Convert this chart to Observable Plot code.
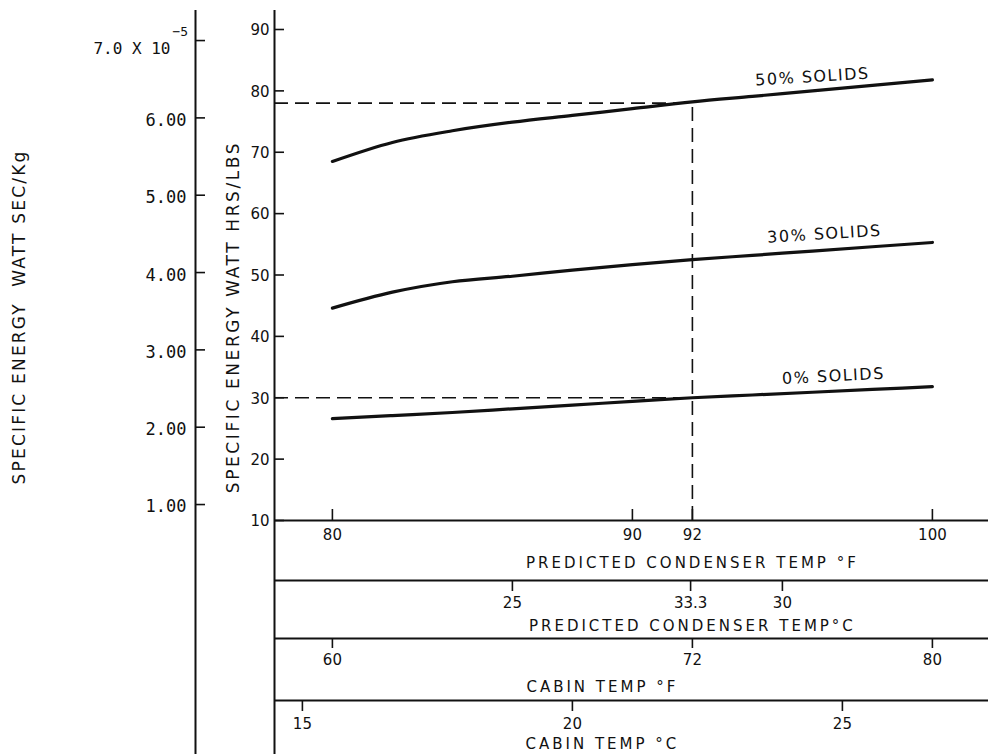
<!DOCTYPE html>
<html>
<head>
<meta charset="utf-8">
<script src="https://cdn.jsdelivr.net/npm/d3@7"></script>
<script src="https://cdn.jsdelivr.net/npm/@observablehq/plot@0.6"></script>
<style>
  body { margin: 0; background: #fff; }
  #chart svg { display: block; }
</style>
</head>
<body>
<div id="chart"></div>
<script>
// ---------- data ----------
const condenserTempF = [80, 82, 84, 86, 88, 90, 92, 94, 96, 98, 100];
const solids50 = [68.5, 71.6, 73.5, 74.9, 76.0, 77.1, 78.2, 79.1, 80.0, 80.9, 81.8];
const solids30 = [44.6, 47.2, 48.9, 49.8, 50.8, 51.7, 52.5, 53.2, 53.9, 54.6, 55.3];
const solids0  = [26.6, 27.1, 27.6, 28.2, 28.8, 29.4, 30.0, 30.45, 30.9, 31.35, 31.8];
const seriesNames = ["50% SOLIDS", "30% SOLIDS", "0% SOLIDS"];

// design point read-out (dashed lines)
const designTempF = 92;
const designReadouts = [78, 30];   // W·h/lb at 92 °F for 50 % and 0 % solids

// axis ticks
const energyWhLbTicks = [10, 20, 30, 40, 50, 60, 70, 80, 90];
const energyWsKgTicks = [1, 2, 3, 4, 5, 6];
const energyWsKgLabels = ["1.00", "2.00", "3.00", "4.00", "5.00", "6.00"];
const energyWsKgTop = 7;
const energyWsKgTopLabel = "7.0 X 10";
const energyWsKgExponent = "\u22125";
const whLbPerWsKgUnit = 1e5 * 0.45359237 / 3600;   // 1.00 x 10^5 W·s/kg expressed in W·h/lb

const condenserFTicks = [80, 90, 92, 100];
const condenserCTicks = [30, 33.3, 35];
const condenserCLabels = ["25", "33.3", "30"];
const cabinFTicks = [60, 72, 80];
const cabinCTicks = [15, 20, 25];
const cabinToCondenserF = 20;      // condenser runs 20 °F above cabin on this chart

const titles = {
  yInner: "SPECIFIC ENERGY WATT HRS/LBS",
  yOuter: "SPECIFIC ENERGY  WATT SEC/Kg",
  condF: "PREDICTED CONDENSER TEMP °F",
  condC: "PREDICTED CONDENSER TEMP°C",
  cabinF: "CABIN TEMP °F",
  cabinC: "CABIN TEMP °C"
};

// ---------- derived tables ----------
const cToF = c => c * 9 / 5 + 32;
const rows = [solids50, solids30, solids0].flatMap((vals, s) =>
  vals.map((v, i) => ({series: seriesNames[s], t: condenserTempF[i], v})));
const labelRows = [solids50, solids30, solids0].map((vals, s) =>
  ({series: seriesNames[s], t: condenserTempF[8], v: vals[8]}));
const leftAxis = energyWsKgTicks.map((v, i) => ({v: v * whLbPerWsKgUnit, label: energyWsKgLabels[i]}));
const condCRows = condenserCTicks.map((c, i) => ({t: cToF(c), label: condenserCLabels[i]}));
const cabinFRows = cabinFTicks.map(f => ({t: f + cabinToCondenserF, label: String(f)}));
const cabinCRows = cabinCTicks.map(c => ({t: cToF(c) + cabinToCondenserF, label: String(c)}));

// ---------- layout ----------
const W = 988, H = 754;
const mTop = 29, mBottom = 234, mLeft = 274;
const xDomain = [78.07, 101.87];
const outerAxisOffset = -79;
const ink = "#111";
const dash = "14,7";
const band = [0, 60, 118, 180];          // separator offsets below the plot bottom (px)
const bandLabel = [15, 83, 140, 204];
const bandTitle = [43, 106, 167, 224];
const titleFont = {fontFamily: "DejaVu Sans", fontSize: 15, ariaDescription: "band-title"};
const curveFont = {fontSize: 16, fill: ink, ariaDescription: "curve-label"};

const chart = Plot.plot({
  width: W, height: H,
  marginTop: mTop, marginBottom: mBottom, marginLeft: mLeft, marginRight: 0,
  x: {domain: xDomain, axis: null},
  y: {domain: [10, 90], axis: null},
  style: {fontFamily: "DejaVu Sans", fontSize: "15px", color: ink, background: "#fff", overflow: "visible"},
  marks: [
    // axis lines
    Plot.ruleX([xDomain[0]], {stroke: ink, strokeWidth: 2, insetTop: -19, insetBottom: -mBottom}),
    Plot.ruleX([xDomain[0]], {stroke: ink, strokeWidth: 2, dx: outerAxisOffset, insetTop: -19, insetBottom: -mBottom}),
    ...band.map(d => Plot.ruleY([10], {stroke: ink, strokeWidth: 2, dy: d})),

    // main y axis ticks + labels
    Plot.ruleY(energyWhLbTicks, {y: d => d, x1: xDomain[0], x2: xDomain[0], insetRight: -10, stroke: ink, strokeWidth: 1.6}),
    Plot.text(energyWhLbTicks, {y: d => d, text: d => String(d), frameAnchor: "left", textAnchor: "end", dx: -5, dy: 1, fill: ink}),

    // outer y axis (W·s/kg)
    Plot.ruleY([...leftAxis.map(d => d.v), energyWsKgTop * whLbPerWsKgUnit], {y: d => d, x1: xDomain[0], x2: xDomain[0], dx: outerAxisOffset, insetRight: -10, stroke: ink, strokeWidth: 1.6}),
    Plot.text(leftAxis, {y: "v", text: "label", frameAnchor: "left", textAnchor: "end", dx: outerAxisOffset - 9, dy: 2.5, fontFamily: "DejaVu Sans Mono", fontSize: 17, fill: ink}),
    Plot.text([energyWsKgTop], {y: d => d * whLbPerWsKgUnit, text: () => energyWsKgTopLabel, frameAnchor: "left", textAnchor: "end", dx: outerAxisOffset - 25, dy: 8, fontFamily: "DejaVu Sans Mono", fontSize: 16, fill: ink}),
    Plot.text([energyWsKgTop], {y: d => d * whLbPerWsKgUnit, text: () => energyWsKgExponent, frameAnchor: "left", textAnchor: "start", dx: outerAxisOffset - 23, dy: -9, fontFamily: "DejaVu Sans Mono", fontSize: 13, fill: ink}),

    // axis titles
    Plot.text([titles.yInner], {text: d => d, frameAnchor: "left", textAnchor: "middle", rotate: -90, dx: -41, dy: 42, fontSize: 17, fill: ink, ariaDescription: "axis-title"}),
    Plot.text([titles.yOuter], {text: d => d, frameAnchor: "left", textAnchor: "middle", rotate: -90, dx: -255, dy: 42, fontSize: 17, fill: ink, ariaDescription: "axis-title-outer"}),

    // dashed read-out lines
    Plot.ruleY(designReadouts, {y: d => d, x1: xDomain[0], x2: designTempF, stroke: ink, strokeWidth: 1.6, strokeDasharray: dash}),
    Plot.ruleX([designTempF], {x: d => d, y1: 10, y2: designReadouts[0], stroke: ink, strokeWidth: 1.6, strokeDasharray: dash}),

    // curves
    Plot.line(rows, {x: "t", y: "v", z: "series", stroke: ink, strokeWidth: 3.2, curve: "monotone-x", strokeLinecap: "round"}),
    Plot.text(labelRows.slice(0, 1), {x: "t", y: "v", text: "series", dy: -14, rotate: -3.5, ...curveFont}),
    Plot.text(labelRows.slice(1, 2), {x: "t", y: "v", text: "series", dx: 12, dy: -17, rotate: -3.5, ...curveFont}),
    Plot.text(labelRows.slice(2, 3), {x: "t", y: "v", text: "series", dx: 21, dy: -16, rotate: -3, ...curveFont}),

    // band 1: condenser °F (ticks point up)
    Plot.ruleX(condenserFTicks, {x: d => d, y1: 10, y2: 10, insetTop: -11, stroke: ink, strokeWidth: 1.6}),
    Plot.text(condenserFTicks, {x: d => d, y: 10, text: d => String(d), dy: bandLabel[0], fill: ink}),
    Plot.text([titles.condF], {x: designTempF, y: 10, text: d => d, dy: bandTitle[0], ...titleFont, fill: ink}),

    // band 2: condenser °C
    Plot.ruleX(condCRows, {x: "t", y1: 10, y2: 10, insetBottom: -11, dy: band[1], stroke: ink, strokeWidth: 1.6}),
    Plot.text(condCRows, {x: "t", y: 10, text: "label", dy: bandLabel[1], fill: ink}),
    Plot.text([titles.condC], {x: designTempF, y: 10, text: d => d, dy: bandTitle[1], ...titleFont, fill: ink}),

    // band 3: cabin °F
    Plot.ruleX(cabinFRows, {x: "t", y1: 10, y2: 10, insetBottom: -10, dy: band[2], stroke: ink, strokeWidth: 1.6}),
    Plot.text(cabinFRows, {x: "t", y: 10, text: "label", dy: bandLabel[2], fill: ink}),
    Plot.text([titles.cabinF], {x: 89, y: 10, text: d => d, dy: bandTitle[2], ...titleFont, fill: ink}),

    // band 4: cabin °C
    Plot.ruleX(cabinCRows, {x: "t", y1: 10, y2: 10, insetBottom: -11, dy: band[3], stroke: ink, strokeWidth: 1.6}),
    Plot.text(cabinCRows, {x: "t", y: 10, text: "label", dy: bandLabel[3], fill: ink}),
    Plot.text([titles.cabinC], {x: 89, y: 10, text: d => d, dy: bandTitle[3], ...titleFont, fill: ink})
  ]
});

// wide letter spacing of the original lettering
const spacing = {"band-title": 3, "axis-title": 2.6, "axis-title-outer": 2.2, "curve-label": 1.5};
for (const [label, ls] of Object.entries(spacing)) {
  d3.select(chart).selectAll(`[aria-description="${label}"] text`).attr("letter-spacing", ls);
}
document.getElementById("chart").appendChild(chart);
</script>
</body>
</html>
